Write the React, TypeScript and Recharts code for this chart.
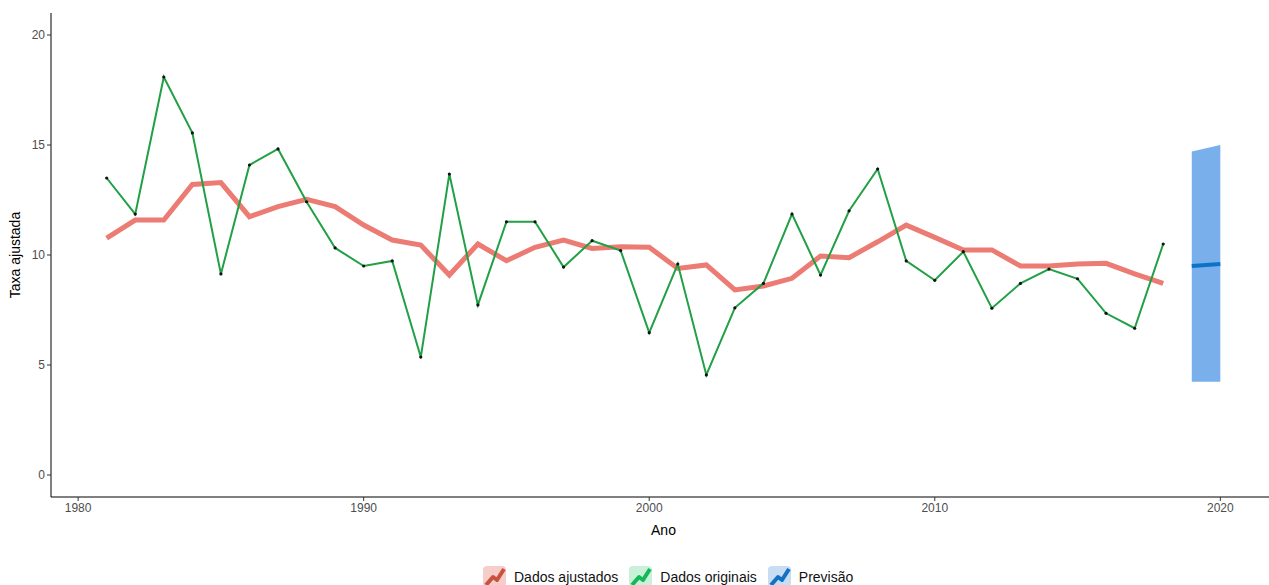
import React from 'react';
import { ComposedChart, Line, Area, XAxis, YAxis, Label } from 'recharts';

const anos = [
  1981, 1982, 1983, 1984, 1985, 1986, 1987, 1988, 1989, 1990,
  1991, 1992, 1993, 1994, 1995, 1996, 1997, 1998, 1999, 2000,
  2001, 2002, 2003, 2004, 2005, 2006, 2007, 2008, 2009, 2010,
  2011, 2012, 2013, 2014, 2015, 2016, 2017, 2018,
];

const dadosOriginais = [
  13.5, 11.86, 18.09, 15.55, 9.14, 14.09, 14.82, 12.42, 10.32, 9.5,
  9.73, 5.36, 13.68, 7.73, 11.51, 11.51, 9.45, 10.65, 10.2, 6.47,
  9.59, 4.55, 7.6, 8.71, 11.86, 9.09, 12.01, 13.91, 9.73, 8.85,
  10.15, 7.58, 8.71, 9.36, 8.92, 7.35, 6.67, 10.5,
];

const dadosAjustados = [
  10.77, 11.59, 11.59, 13.21, 13.29, 11.74, 12.2, 12.53, 12.2, 11.36,
  10.68, 10.45, 9.09, 10.5, 9.74, 10.35, 10.68, 10.3, 10.38, 10.35,
  9.39, 9.55, 8.41, 8.59, 8.94, 9.95, 9.88, 10.6, 11.36, 10.8,
  10.23, 10.23, 9.5, 9.5, 9.59, 9.62, 9.14, 8.71,
];

const anosPrevisao = [2019, 2020];
const previsao = [9.5, 9.59];
const limiteInferior = [4.24, 4.24];
const limiteSuperior = [14.7, 15.0];

const xTicks = [1980, 1990, 2000, 2010, 2020];
const yTicks = [0, 5, 10, 15, 20];

const data = [
  ...anos.map((ano, i) => ({
    ano,
    ajustados: dadosAjustados[i],
    originais: dadosOriginais[i],
  })),
  ...anosPrevisao.map((ano, i) => ({
    ano,
    previsao: previsao[i],
    faixa: [limiteInferior[i], limiteSuperior[i]],
  })),
];

const legendItems = [
  { label: 'Dados ajustados', bg: '#f6cdc8', line: '#c9513f' },
  { label: 'Dados originais', bg: '#c8f1d8', line: '#14b85a' },
  { label: 'Previsão', bg: '#c8dcf3', line: '#1371c4' },
];

const LegendIcon = ({ bg, line }: { bg: string; line: string }) => (
  <svg width={23} height={21} style={{ display: 'block' }}>
    <rect x={0} y={0} width={23} height={21} rx={4} fill={bg} />
    <polyline points="3,19 10,11 14,14 21,3" fill="none" stroke={line} strokeWidth={4} strokeLinejoin="round" />
  </svg>
);

const Dot = (props: any) => {
  const { cx, cy } = props;
  if (cx == null || cy == null) return null;
  return <circle cx={cx} cy={cy} r={1.6} fill="#111" />;
};

export default function App() {
  return (
    <div
      style={{
        position: 'fixed',
        left: 0,
        top: 0,
        width: 1269,
        height: 585,
        overflow: 'hidden',
        background: '#fff',
        fontFamily: '"Liberation Sans", Arial, sans-serif',
      }}
    >
      <ComposedChart width={1276} height={585} data={data} margin={{ top: 13, right: 0, left: 0, bottom: 48 }}>
        <XAxis
          dataKey="ano"
          type="number"
          domain={[1979.05, 2021.95]}
          ticks={xTicks}
          allowDataOverflow
          height={40}
          stroke="#000"
          tickSize={4}
          tick={{ fill: '#4d4d4d', fontSize: 12 }}
          tickLine={{ stroke: '#333' }}
        >
          <Label value="Ano" position="insideBottom" offset={2} style={{ fill: '#000', fontSize: 14 }} />
        </XAxis>
        <YAxis
          type="number"
          domain={[-1, 21]}
          ticks={yTicks}
          allowDataOverflow
          width={51}
          stroke="#000"
          tickSize={4}
          tick={{ fill: '#4d4d4d', fontSize: 12 }}
          tickLine={{ stroke: '#333' }}
        >
          <Label
            content={({ viewBox }: any) => {
              const cy = viewBox.y + viewBox.height / 2;
              return (
                <text x={20} y={cy} transform={`rotate(-90 20 ${cy})`} textAnchor="middle" fill="#000" fontSize={14}>
                  Taxa ajustada
                </text>
              );
            }}
          />
        </YAxis>
        <Area
          dataKey="faixa"
          type="linear"
          fill="#79afea"
          fillOpacity={1}
          stroke="none"
          isAnimationActive={false}
          connectNulls={false}
        />
        <Line
          dataKey="ajustados"
          type="linear"
          stroke="#ec7b74"
          strokeWidth={5}
          dot={false}
          activeDot={false}
          isAnimationActive={false}
        />
        <Line
          dataKey="originais"
          type="linear"
          stroke="#21a046"
          strokeWidth={2}
          dot={<Dot />}
          activeDot={false}
          isAnimationActive={false}
        />
        <Line
          dataKey="previsao"
          type="linear"
          stroke="#0d73c8"
          strokeWidth={4}
          dot={false}
          activeDot={false}
          isAnimationActive={false}
        />
      </ComposedChart>
      <div
        style={{
          position: 'absolute',
          top: 566,
          left: 483,
          display: 'flex',
          alignItems: 'center',
          fontSize: 14,
          color: '#111',
          whiteSpace: 'nowrap',
        }}
      >
        {legendItems.map((item) => (
          <div key={item.label} style={{ display: 'flex', alignItems: 'center', marginRight: 11 }}>
            <LegendIcon bg={item.bg} line={item.line} />
            <span style={{ marginLeft: 8 }}>{item.label}</span>
          </div>
        ))}
      </div>
    </div>
  );
}
